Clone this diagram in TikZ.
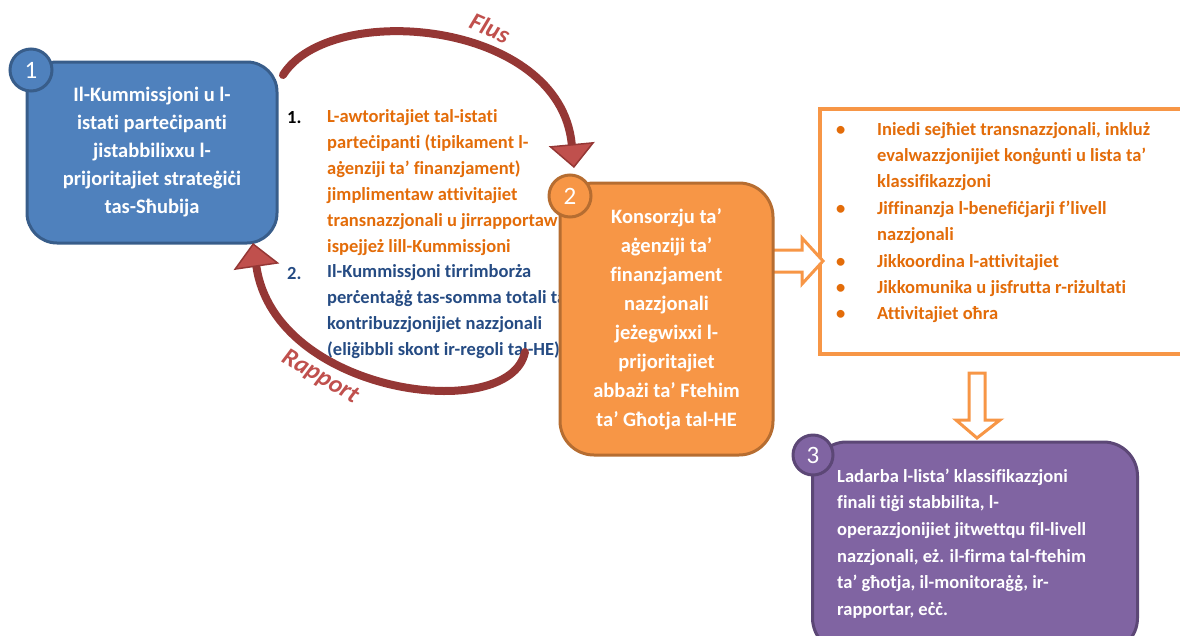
\documentclass[tikz,border=0pt]{standalone}
\usepackage{fontspec}
\setmainfont{Carlito}[Ligatures=NoCommon]
\usetikzlibrary{arrows.meta}
\definecolor{bluefill}{HTML}{4F81BD}
\definecolor{blueline}{HTML}{385D8A}
\definecolor{orfill}{HTML}{F79646}
\definecolor{orline}{HTML}{B66D31}
\definecolor{purfill}{HTML}{8064A2}
\definecolor{purline}{HTML}{5C4776}
\definecolor{ortext}{HTML}{E36C09}
\definecolor{bltext}{HTML}{254B83}
\definecolor{arrdark}{HTML}{953735}
\definecolor{arrhead}{HTML}{C0504D}
\definecolor{lblred}{HTML}{C0504D}
\begin{document}
\begin{tikzpicture}[x=1pt,y=-1pt,
  stepbox/.style={rectangle, rounded corners=30pt, line width=3pt, inner sep=0pt, align=center, text=white},
  numcirc/.style={circle, line width=3pt, minimum size=42pt, inner sep=0pt, text=white, font=\fontsize{25}{25}\selectfont},
  bodytxt/.style={inner sep=0pt, anchor=west, align=left},
  hollow/.style={draw=orfill, line width=3pt, fill=white, line join=miter},
  bigarrow/.style={line width=8pt, draw=arrdark, -{Triangle[width=46pt,length=24pt,line width=1.5pt,fill=arrhead,color=arrdark]}},
  arrlabel/.style={text=lblred, font=\bfseries\itshape\fontsize{25}{25}\selectfont, inner sep=0pt}
]
\useasboundingbox (0,0) rectangle (1180,635);

% middle text
\node[bodytxt, font=\bfseries\fontsize{18.5}{26}\selectfont] (num1) at (287,118) {1.};
\node[bodytxt, text=ortext, font=\bfseries\fontsize{18.5}{26}\selectfont] (mid1) at (327,182.5)
 {L-awtoritajiet tal-istati\\parteċipanti (tipikament l-\\aġenziji ta’ finanzjament)\\jimplimentaw attivitajiet\\transnazzjonali u jirrapportaw\\ispejjeż lill-Kummissjoni};
\node[bodytxt, text=bltext, font=\bfseries\fontsize{18.5}{26}\selectfont] (num2) at (287,273) {2.};
\node[bodytxt, text=bltext, font=\bfseries\fontsize{18.5}{26}\selectfont] (mid2) at (327,311.5)
 {Il-Kummissjoni tirrimborża\\perċentaġġ tas-somma totali ta’\\kontribuzzjonijiet nazzjonali\\(eliġibbli skont ir-regoli tal-HE)};

% list box
\node[draw=orfill, line width=4pt, fill=white, minimum width=372pt, minimum height=245pt, inner sep=0pt, anchor=north west] (list) at (818,107) {};
\node[bodytxt, text=ortext, font=\bfseries\fontsize{18.5}{26.4}\selectfont] (listtxt) at (836,222.5)
 {\makebox[41pt][l]{•}Iniedi sejħiet transnazzjonali, inkluż\\
  \hspace*{41pt}evalwazzjonijiet konġunti u lista ta’\\
  \hspace*{41pt}klassifikazzjoni\\
  \makebox[41pt][l]{•}Jiffinanzja l-benefiċjarji f’livell\\
  \hspace*{41pt}nazzjonali\\
  \makebox[41pt][l]{•}Jikkoordina l-attivitajiet\\
  \makebox[41pt][l]{•}Jikkomunika u jisfrutta r-riżultati\\
  \makebox[41pt][l]{•}Attivitajiet oħra};

% hollow arrows
\draw[hollow] (772,250) -- (802,250) -- (802,238) -- (823,261) -- (802,284) -- (802,272) -- (772,272);
\draw[hollow] (969,373) -- (985,373) -- (985,420) -- (1000,420) -- (977,438) -- (956,420) -- (969,420) -- cycle;

% box 1
\node[stepbox, fill=bluefill, draw=blueline, minimum width=250pt, minimum height=181pt,
  font=\bfseries\fontsize{20.5}{28}\selectfont] (box1) at (152,152.5)
 {Il-Kummissjoni u l-\\istati parteċipanti\\jistabbilixxu l-\\prijoritajiet strateġiċi\\tas-Sħubija};
\node[numcirc, fill=bluefill, draw=blueline] (c1) at (31,70) {1};

% curved arrows
\coordinate (flusA) at (283,75);
\coordinate (flusB) at (574,168);
\coordinate (rapA) at (525,352);
\coordinate (rapB) at (253,243);
\draw[bigarrow, line cap=round] (flusA) .. controls (330,0) and (560,20) .. (flusB);
\draw[bigarrow, line cap=round] (rapA) .. controls (510,425) and (275,395) .. (rapB);
\node[arrlabel, rotate=-24] (flus) at (490,28) {Flus};
\node[arrlabel, rotate=-30] (rap) at (320,377) {Rapport};

% box 2
\node[stepbox, rounded corners=34pt, fill=orfill, draw=orline, minimum width=213pt, minimum height=272pt,
  font=\bfseries\fontsize{20.5}{29}\selectfont] (box2) at (666.5,319)
 {Konsorzju ta’\\aġenziji ta’\\finanzjament\\nazzjonali\\jeżegwixxi l-\\prijoritajiet\\abbażi ta’ Ftehim\\ta’ Għotja tal-HE};
\node[numcirc, fill=orfill, draw=orline] (c2) at (570,196) {2};

% box 3
\node[stepbox, rounded corners=34pt, fill=purfill, draw=purline, minimum width=325pt, minimum height=210pt] (box3) at (975,547) {};
\node[bodytxt, text=white, font=\bfseries\fontsize{18.5}{26.6}\selectfont] (box3txt) at (837,543.5)
 {Ladarba l-lista’ klassifikazzjoni\\finali tiġi stabbilita, l-\\operazzjonijiet jitwettqu fil-livell\\nazzjonali, eż. il-firma tal-ftehim\\ta’ għotja, il-monitoraġġ, ir-\\rapportar, eċċ.};
\node[numcirc, fill=purfill, draw=purline, minimum size=40pt] (c3) at (813,455) {3};
\end{tikzpicture}
\end{document}
